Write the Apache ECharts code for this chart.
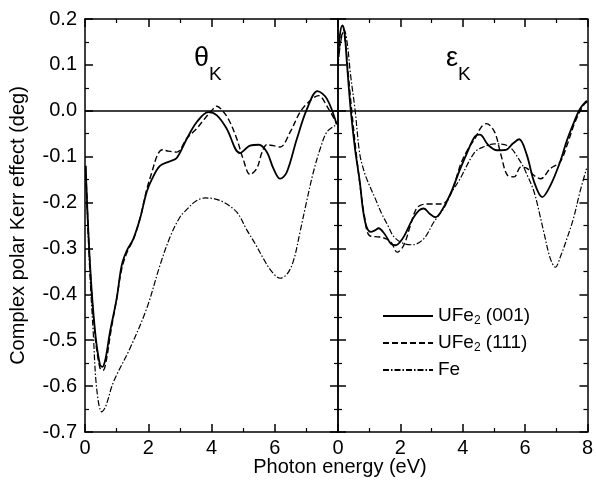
<!DOCTYPE html>
<html><head><meta charset="utf-8">
<script src="https://cdn.jsdelivr.net/npm/echarts@6/dist/echarts.min.js"></script>
<style>html,body{margin:0;padding:0;background:#fff}#c{width:596px;height:485px}</style>
</head><body><div id="c"></div>
<script>
// Legend / series names
const seriesNames = ['UFe2 (001)', 'UFe2 (111)', 'Fe'];
const panelLabels = ['θ', 'ε'];
const panelSub = 'K';
const xTitle = 'Photon energy (eV)';
const yTitle = 'Complex polar Kerr effect (deg)';

// Kerr rotation theta_K  [photon energy eV, deg]
const theta001 = [[0.02,-0.12],[0.16,-0.337],[0.32,-0.482],[0.47,-0.553],[0.55,-0.558],[0.65,-0.54],[0.79,-0.482],[1.0,-0.41],[1.16,-0.337],[1.32,-0.305],[1.53,-0.279],[1.74,-0.235],[1.95,-0.177],[2.11,-0.15],[2.37,-0.12],[2.69,-0.11],[2.9,-0.103],[3.22,-0.061],[3.53,-0.025],[3.9,-0.003],[4.17,-0.01],[4.48,-0.039],[4.9,-0.092],[5.22,-0.076],[5.5,-0.074],[5.75,-0.09],[5.96,-0.126],[6.17,-0.148],[6.38,-0.134],[6.7,-0.061],[7.02,0.004],[7.35,0.043],[7.65,0.026],[7.96,-0.03]];
const theta111 = [[0.02,-0.12],[0.16,-0.34],[0.32,-0.49],[0.47,-0.56],[0.57,-0.566],[0.67,-0.545],[0.82,-0.48],[1.0,-0.41],[1.16,-0.345],[1.32,-0.31],[1.53,-0.28],[1.74,-0.235],[1.95,-0.172],[2.11,-0.135],[2.3,-0.095],[2.45,-0.085],[2.64,-0.088],[2.9,-0.09],[3.22,-0.06],[3.53,-0.039],[3.74,-0.021],[4.0,0.0],[4.17,0.01],[4.35,0.0],[4.55,-0.02],[4.8,-0.061],[5.0,-0.105],[5.22,-0.139],[5.43,-0.126],[5.6,-0.09],[5.75,-0.074],[5.96,-0.076],[6.17,-0.079],[6.49,-0.046],[6.8,-0.003],[7.07,0.019],[7.38,0.033],[7.7,0.004],[7.96,-0.028]];
const thetaFe = [[0.02,-0.13],[0.15,-0.35],[0.26,-0.482],[0.37,-0.606],[0.53,-0.656],[0.65,-0.645],[0.9,-0.591],[1.42,-0.518],[1.95,-0.431],[2.37,-0.337],[2.69,-0.275],[3.0,-0.232],[3.22,-0.215],[3.5,-0.197],[3.8,-0.19],[4.1,-0.192],[4.4,-0.2],[4.8,-0.221],[5.12,-0.26],[5.4,-0.292],[5.64,-0.322],[5.9,-0.35],[6.17,-0.365],[6.4,-0.355],[6.6,-0.325],[6.8,-0.264],[7.0,-0.2],[7.22,-0.134],[7.45,-0.08],[7.65,-0.046],[7.91,-0.032]];

// Kerr ellipticity epsilon_K  [photon energy eV, deg]
const eps001 = [[0.0,0.11],[0.06,0.165],[0.14,0.186],[0.21,0.17],[0.29,0.1],[0.41,0.0],[0.55,-0.085],[0.7,-0.155],[0.8,-0.215],[0.91,-0.252],[1.05,-0.264],[1.2,-0.26],[1.3,-0.256],[1.49,-0.268],[1.7,-0.29],[1.86,-0.293],[2.0,-0.285],[2.13,-0.272],[2.4,-0.235],[2.6,-0.217],[2.75,-0.213],[2.95,-0.225],[3.12,-0.232],[3.39,-0.21],[3.65,-0.174],[3.9,-0.13],[4.15,-0.09],[4.39,-0.056],[4.55,-0.052],[4.81,-0.074],[5.1,-0.086],[5.39,-0.085],[5.6,-0.072],[5.81,-0.062],[6.05,-0.095],[6.29,-0.155],[6.55,-0.188],[6.81,-0.163],[7.12,-0.112],[7.34,-0.065],[7.55,-0.028],[7.76,0.004],[7.98,0.022]];
const eps111 = [[0.0,0.1],[0.08,0.155],[0.17,0.17],[0.25,0.14],[0.33,0.08],[0.44,0.0],[0.58,-0.09],[0.72,-0.17],[0.85,-0.23],[1.01,-0.272],[1.33,-0.275],[1.5,-0.278],[1.7,-0.286],[1.9,-0.308],[2.11,-0.293],[2.32,-0.25],[2.5,-0.215],[2.64,-0.206],[2.96,-0.203],[3.33,-0.203],[3.59,-0.185],[3.96,-0.112],[4.2,-0.08],[4.39,-0.061],[4.6,-0.035],[4.76,-0.028],[5.02,-0.046],[5.23,-0.097],[5.44,-0.141],[5.65,-0.144],[5.86,-0.123],[6.05,-0.125],[6.29,-0.141],[6.5,-0.148],[6.81,-0.126],[7.12,-0.112],[7.34,-0.076],[7.6,-0.025],[7.87,0.012],[8.0,0.02]];
const epsFe = [[0.0,0.1],[0.1,0.155],[0.2,0.176],[0.3,0.145],[0.4,0.08],[0.55,0.0],[0.7,-0.095],[0.85,-0.135],[0.96,-0.155],[1.2,-0.192],[1.38,-0.221],[1.6,-0.25],[1.8,-0.275],[2.13,-0.29],[2.39,-0.292],[2.75,-0.279],[3.07,-0.243],[3.39,-0.213],[3.65,-0.177],[3.9,-0.15],[4.39,-0.09],[4.7,-0.078],[5.02,-0.072],[5.44,-0.076],[5.86,-0.112],[6.1,-0.145],[6.29,-0.177],[6.45,-0.22],[6.6,-0.264],[6.8,-0.32],[6.97,-0.341],[7.15,-0.315],[7.34,-0.279],[7.55,-0.235],[7.76,-0.177],[7.97,-0.126]];

const FONT = 'Liberation Sans, Arial, Helvetica, sans-serif';
const chart = echarts.init(document.getElementById('c'), null, {renderer: 'canvas'});

const grids = [
  {left: 85, top: 19, width: 253, height: 413},
  {left: 338, top: 19, width: 253, height: 413}
];

function xAx(grid, pos, labels, hideMax) {
  return {
    type: 'value', gridIndex: grid, position: pos, min: 0, max: 8, interval: 2,
    axisLine: {show: true, onZero: false, lineStyle: {color: '#000', width: 1.5}},
    axisTick: {show: true, inside: true, length: 8, lineStyle: {color: '#000', width: 1.5}},
    minorTick: {show: true, splitNumber: 2, length: 4, lineStyle: {color: '#000', width: 1.2}},
    splitLine: {show: false}, minorSplitLine: {show: false},
    axisLabel: {show: labels, showMaxLabel: !hideMax, color: '#000', fontSize: 20, fontFamily: FONT, margin: 6}
  };
}
function yAx(grid, pos, labels, named) {
  const a = {
    type: 'value', gridIndex: grid, position: pos, min: -0.7, max: 0.2, interval: 0.1,
    axisLine: {show: true, onZero: false, lineStyle: {color: '#000', width: 1.5}},
    axisTick: {show: true, inside: true, length: 8, lineStyle: {color: '#000', width: 1.5}},
    minorTick: {show: true, splitNumber: 2, length: 4, lineStyle: {color: '#000', width: 1.2}},
    splitLine: {show: false}, minorSplitLine: {show: false},
    axisLabel: {show: labels, color: '#000', fontSize: 20, fontFamily: FONT, margin: 8,
      formatter: v => (Math.abs(v) < 1e-9 ? '0.0' : Number(v).toFixed(1))}
  };
  if (named) {
    Object.assign(a, {name: yTitle, nameLocation: 'middle', nameGap: 57, nameRotate: 90,
      nameTextStyle: {color: '#000', fontSize: 20, fontFamily: FONT}});
  }
  return a;
}

const styles = [
  {type: 'solid', width: 1.8},
  {type: [6, 3], width: 1.4},
  {type: [6, 2, 1.5, 2], width: 1.2}
];
const zeroLine = {silent: true, symbol: 'none', label: {show: false},
  lineStyle: {color: '#000', type: 'solid', width: 1.5}, data: [{yAxis: 0}]};

function ser(name, data, idx, panel) {
  const s = {
    name: name, type: 'line', data: data, xAxisIndex: panel * 2, yAxisIndex: panel * 2,
    showSymbol: false, symbol: 'none', smooth: 0.35, clip: true,
    lineStyle: Object.assign({color: '#000'}, styles[idx]),
    itemStyle: {color: '#000'}, emphasis: {disabled: true}, z: 3 - idx
  };
  if (idx === 0) s.markLine = zeroLine;
  return s;
}

const subRich = {
  a: {fontSize: 27, lineHeight: 34, verticalAlign: 'top', fontFamily: FONT, fontWeight: 'normal', color: '#000'},
  b: {fontSize: 19, lineHeight: 19, verticalAlign: 'top', padding: [20, 0, 0, 0], fontFamily: FONT, fontWeight: 'normal', color: '#000'}
};

chart.setOption({
  animation: false,
  backgroundColor: '#fff',
  grid: grids,
  title: [
    {text: '{a|' + panelLabels[0] + '}{b|' + panelSub + '}', left: 194, top: 45, padding: 0, textStyle: {fontWeight: 'normal', rich: subRich}},
    {text: '{a|' + panelLabels[1] + '}{b|' + panelSub + '}', left: 446, top: 45, padding: 0, textStyle: {fontWeight: 'normal', rich: subRich}}
  ],
  graphic: [{type: 'text', x: 340, y: 457, style: {text: xTitle, fontSize: 20, fontFamily: FONT, fill: '#000', align: 'center', verticalAlign: 'top'}}],
  legend: {
    data: seriesNames, orient: 'vertical', left: 382, top: 305, padding: 0,
    itemWidth: 50, itemHeight: 14, itemGap: 5, selectedMode: false,
    itemStyle: {opacity: 0, borderWidth: 0},
    textStyle: {color: '#000', fontSize: 19, fontFamily: FONT, lineHeight: 22,
      rich: {sub: {fontSize: 12, lineHeight: 12, verticalAlign: 'top', padding: [10, 0, 0, 0], fontFamily: FONT, color: '#000'}}},
    formatter: n => n.replace('UFe2', 'UFe{sub|2}')
  },
  xAxis: [xAx(0, 'bottom', true, true), xAx(0, 'top', false, false), xAx(1, 'bottom', true, false), xAx(1, 'top', false, false)],
  yAxis: [yAx(0, 'left', true, true), yAx(0, 'right', false, false), yAx(1, 'left', false, false), yAx(1, 'right', false, false)],
  series: [
    ser(seriesNames[0], theta001, 0, 0),
    ser(seriesNames[1], theta111, 1, 0),
    ser(seriesNames[2], thetaFe, 2, 0),
    ser(seriesNames[0], eps001, 0, 1),
    ser(seriesNames[1], eps111, 1, 1),
    ser(seriesNames[2], epsFe, 2, 1)
  ]
});
</script></body></html>
